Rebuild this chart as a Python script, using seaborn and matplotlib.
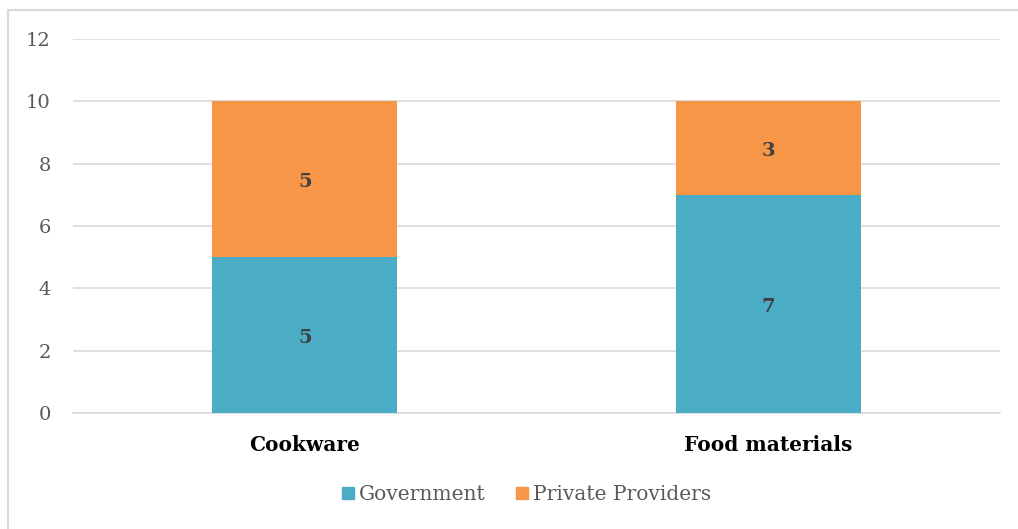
import matplotlib
matplotlib.use("Agg")
import matplotlib.pyplot as plt
import matplotlib.lines as mlines
import seaborn as sns
import pandas as pd

categories = ["Cookware", "Food materials"]
government = [5, 7]
private_providers = [5, 3]
series_names = ["Government", "Private Providers"]
y_ticks = [0, 2, 4, 6, 8, 10, 12]

gov_color = "#4BACC6"
priv_color = "#F79646"

sns.set_theme(style="white")
plt.rcParams["font.family"] = ["DejaVu Serif"]

fig = plt.figure(figsize=(10.18, 5.29), dpi=100)
ax = fig.add_axes([73 / 1018, 1 - 413 / 529, 927 / 1018, 374 / 529])

df = pd.DataFrame({
    "category": categories,
    "government": government,
    "private": private_providers,
})
df["total"] = df["government"] + df["private"]

sns.barplot(data=df, x="category", y="total", color=priv_color, width=0.4,
            saturation=1, ax=ax, zorder=3, linewidth=0)
sns.barplot(data=df, x="category", y="government", color=gov_color, width=0.4,
            saturation=1, ax=ax, zorder=3, linewidth=0)

# value labels centred in each segment
for i, row in df.iterrows():
    ax.text(i, row["government"] / 2 - 0.1, f"{row['government']}", ha="center", va="center",
            fontsize=14, fontweight="bold", color="#404040", zorder=4)
    ax.text(i, row["government"] + row["private"] / 2 - 0.1, f"{row['private']}", ha="center",
            va="center", fontsize=14, fontweight="bold", color="#404040", zorder=4)

ax.set_xlim(-0.5, 1.5)
ax.set_ylim(0, 12)
ax.set_yticks(y_ticks)
ax.set_yticklabels([str(t) for t in y_ticks], fontsize=14, color="#595959")
ax.yaxis.grid(True, color="#D9D9D9", linewidth=1.2, zorder=0)
ax.set_axisbelow(True)
ax.tick_params(axis="y", length=0, pad=16)
ax.tick_params(axis="x", length=0, pad=16)
for lbl in ax.get_xticklabels():
    lbl.set_fontsize(14.5)
    lbl.set_fontweight("bold")
    lbl.set_color("black")
ax.set_xlabel("")
ax.set_ylabel("")
for side in ["top", "right", "left"]:
    ax.spines[side].set_visible(False)
ax.spines["bottom"].set_color("#D9D9D9")
ax.spines["bottom"].set_linewidth(1.2)

handles = [
    mlines.Line2D([], [], marker="s", linestyle="none", markersize=9,
                  markerfacecolor=gov_color, markeredgecolor=gov_color),
    mlines.Line2D([], [], marker="s", linestyle="none", markersize=9,
                  markerfacecolor=priv_color, markeredgecolor=priv_color),
]
leg = fig.legend(handles, series_names, loc="center", bbox_to_anchor=(0.515, 1 - 495 / 529),
                 ncol=2, frameon=False, fontsize=14.5, handletextpad=0.05, columnspacing=1.3,
                 handlelength=1.0)
for t in leg.get_texts():
    t.set_color("#595959")

# outer frame (top and left edges visible)
fig.add_artist(mlines.Line2D([8 / 1018, 1.0], [1 - 10 / 529, 1 - 10 / 529],
                             transform=fig.transFigure, color="#D9D9D9", linewidth=1.5))
fig.add_artist(mlines.Line2D([8 / 1018, 8 / 1018], [0.0, 1 - 10 / 529],
                             transform=fig.transFigure, color="#D9D9D9", linewidth=1.5))

fig.savefig("out.png", dpi=100)
